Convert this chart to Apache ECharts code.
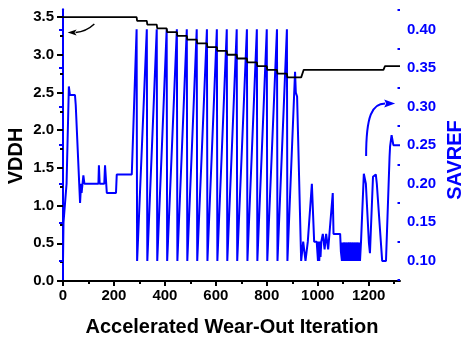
<!DOCTYPE html>
<html><head><meta charset="utf-8">
<script src="https://cdn.jsdelivr.net/npm/echarts@6/dist/echarts.min.js"></script>
<style>html,body{margin:0;padding:0;background:#fff}#c{width:463px;height:339px}</style>
</head><body><div id="c"></div>
<script>
// ---- data ----
const blackIter = [0,289,291,329,331,368,370,407,409,447,449,486,488,525,527,565,567,604,606,643,645,682,684,722,724,761,763,800,802,840,842,879,881,935,945,1258,1264,1323];
const blackVddh = [3.50,3.50,3.45,3.45,3.40,3.40,3.35,3.35,3.30,3.30,3.25,3.25,3.20,3.20,3.15,3.15,3.10,3.10,3.05,3.05,3.00,3.00,2.95,2.95,2.90,2.90,2.85,2.85,2.80,2.80,2.75,2.75,2.70,2.70,2.80,2.80,2.85,2.85];

const blueIter = [0,2,14,23,27,47,50,55,67,71,73,80,84,139,141,144,162,165,172,208,211,270,
  289,291,329,331,368,370,407,409,447,449,486,488,525,527,565,567,604,606,643,645,682,684,722,724,761,763,800,802,840,842,879,881,
  911,914,919,935,941,943,950,952,958,961,977,986,996,999,1001,1004,1006,1009,1011,1014,1018,1020,1025,1027,1031,1033,1039,1041,1044,1046,1059,1062,1088,1091,
  1095,1097,1099,1101,1103,1105,1108,1110,1112,1115,1117,1119,1122,1124,1126,1128,1131,1133,1135,1138,1140,1142,1145,1147,1149,1152,1154,1156,1159,1161,1163,1166,
  1170,1181,1185,1189,1201,1205,1217,1228,1232,1253,1268,1282,1284,1290,1294,1297,1323];
const blueSavref = [0.10,0.15,0.20,0.326,0.315,0.315,0.302,0.302,0.175,0.200,0.188,0.211,0.200,0.200,0.224,0.200,0.200,0.224,0.188,0.188,0.212,0.212,
  0.40,0.10,0.40,0.10,0.40,0.10,0.40,0.10,0.40,0.10,0.40,0.10,0.40,0.10,0.40,0.10,0.40,0.10,0.40,0.10,0.40,0.10,0.40,0.10,0.40,0.10,0.40,0.10,0.40,0.10,0.40,0.10,
  0.345,0.318,0.313,0.10,0.10,0.125,0.125,0.10,0.10,0.125,0.20,0.125,0.125,0.11,0.10,0.125,0.10,0.125,0.105,0.125,0.125,0.135,0.135,0.115,0.115,0.135,0.135,0.115,0.115,0.135,0.188,0.135,0.135,0.112,
  0.10,0.124,0.10,0.10,0.124,0.10,0.124,0.10,0.124,0.124,0.10,0.124,0.10,0.10,0.124,0.10,0.124,0.10,0.124,0.10,0.124,0.10,0.124,0.10,0.124,0.10,0.124,0.10,0.124,0.10,0.124,0.10,
  0.125,0.213,0.213,0.20,0.123,0.11,0.209,0.212,0.20,0.10,0.10,0.235,0.248,0.263,0.263,0.25,0.25];

const xTicks = [0,200,400,600,800,1000,1200];
const xMinorTicks = [100,300,500,700,900,1100,1300];
const leftTicks = [0,0.5,1.0,1.5,2.0,2.5,3.0,3.5];
const leftMinorTicks = [0.25,0.75,1.25,1.75,2.25,2.75,3.25];
const rightTicks = [0.10,0.15,0.20,0.25,0.30,0.35,0.40];
const rightMinorTicks = [0.075,0.125,0.175,0.225,0.275,0.325,0.375,0.425];

const xTitle = 'Accelerated Wear-Out Iteration';
const leftTitle = 'VDDH';
const rightTitle = 'SAVREF';

// ---- chart ----
const FONT = "'Liberation Sans', Arial, sans-serif";
const BLUE = '#0000ff';
const X_MIN = 0, X_MAX = 1323;
const chart = echarts.init(document.getElementById('c'), null, {renderer: 'canvas'});

function zip(a, b) { return a.map((v, i) => [v, b[i]]); }
const lbl = (color) => ({color: color, fontFamily: FONT, fontWeight: 'bold', fontSize: 15});

chart.setOption({
  animation: false,
  backgroundColor: '#fff',
  grid: [
    {left: 63, right: 63, top: 15, bottom: 58},
    {left: 63, right: 63, top: 9.3, bottom: 58}
  ],
  xAxis: [
    {gridIndex: 0, type: 'value', min: X_MIN, max: X_MAX, position: 'bottom',
     axisLine: {show: true, lineStyle: {color: '#000', width: 2}},
     axisTick: {show: true, customValues: xTicks, length: 5, lineStyle: {color: '#000', width: 2}},
     axisLabel: Object.assign({customValues: xTicks, margin: 7, formatter: v => String(Math.round(v))}, lbl('#000')),
     splitLine: {show: false}},
    {gridIndex: 0, type: 'value', min: X_MIN, max: X_MAX, position: 'bottom',
     axisLine: {show: false},
     axisTick: {show: true, customValues: xMinorTicks, length: 3, lineStyle: {color: '#000', width: 2}},
     axisLabel: {show: false}, splitLine: {show: false}},
    {gridIndex: 1, type: 'value', min: X_MIN, max: X_MAX, show: false}
  ],
  yAxis: [
    {gridIndex: 0, type: 'value', min: 0, max: 3.527, position: 'left',
     axisLine: {show: true, lineStyle: {color: '#000', width: 2}},
     axisTick: {show: true, customValues: leftTicks, length: 6, lineStyle: {color: '#000', width: 2}},
     axisLabel: Object.assign({customValues: leftTicks, margin: 9, formatter: v => v.toFixed(1)}, lbl('#000')),
     splitLine: {show: false}},
    {gridIndex: 0, type: 'value', min: 0, max: 3.527, position: 'left',
     axisLine: {show: false},
     axisTick: {show: true, customValues: leftMinorTicks, length: 3, lineStyle: {color: '#000', width: 2}},
     axisLabel: {show: false}, splitLine: {show: false}},
    {gridIndex: 1, type: 'value', min: 0.074, max: 0.426, position: 'right',
     axisLine: {show: true, lineStyle: {color: BLUE, width: 2}},
     axisTick: {show: true, inside: true, customValues: rightTicks, length: 4, lineStyle: {color: BLUE, width: 2}},
     axisLabel: Object.assign({customValues: rightTicks, margin: 7, formatter: v => v.toFixed(2)}, lbl(BLUE)),
     splitLine: {show: false}},
    {gridIndex: 1, type: 'value', min: 0.074, max: 0.426, position: 'right',
     axisLine: {show: false},
     axisTick: {show: true, inside: true, customValues: rightMinorTicks, length: 2.5, lineStyle: {color: BLUE, width: 2}},
     axisLabel: {show: false}, splitLine: {show: false}}
  ],
  series: [
    {name: 'VDDH', type: 'line', xAxisIndex: 0, yAxisIndex: 0, data: zip(blackIter, blackVddh),
     showSymbol: false, symbol: 'none', z: 4, lineStyle: {color: '#000', width: 1.8}},
    {name: 'SAVREF', type: 'line', xAxisIndex: 2, yAxisIndex: 2, data: zip(blueIter, blueSavref),
     showSymbol: false, symbol: 'none', z: 3, lineStyle: {color: BLUE, width: 2}}
  ]
});

// ---- titles and arrows ----
const bArrowStart = chart.convertToPixel({seriesIndex: 0}, [123, 3.407]);
const bArrowTip = chart.convertToPixel({seriesIndex: 0}, [18, 3.294]);
const uArrowStart = chart.convertToPixel({seriesIndex: 1}, [1190, 0.236]);
const uArrowTip = chart.convertToPixel({seriesIndex: 1}, [1304, 0.304]);

const bBase = [bArrowTip[0] + 8, bArrowTip[1]];
const uBase = [uArrowTip[0] - 10, uArrowTip[1]];

chart.setOption({
  graphic: [
    {type: 'text', x: 16, y: 156, rotation: Math.PI / 2,
     style: {text: leftTitle, font: 'bold 20px ' + FONT, fill: '#000', align: 'center', verticalAlign: 'middle'}},
    {type: 'text', x: 455, y: 160, rotation: Math.PI / 2,
     style: {text: rightTitle, font: 'bold 20px ' + FONT, fill: BLUE, align: 'center', verticalAlign: 'middle'}},
    {type: 'text', x: 232, y: 327.5,
     style: {text: xTitle, font: 'bold 20px ' + FONT, fill: '#000', align: 'center', verticalAlign: 'middle'}},
    {type: 'bezierCurve', shape: {x1: bArrowStart[0], y1: bArrowStart[1], x2: bBase[0], y2: bBase[1],
      cpx1: bArrowStart[0] - 8, cpy1: bBase[1] - 1},
     style: {stroke: '#000', lineWidth: 1.5, fill: null}},
    {type: 'polygon', shape: {points: [[bArrowTip[0], bArrowTip[1]], [bBase[0] + 1, bBase[1] - 3], [bBase[0] - 1, bBase[1]], [bBase[0] + 1, bBase[1] + 3]]},
     style: {fill: '#000'}},
    {type: 'bezierCurve', shape: {x1: uArrowStart[0], y1: uArrowStart[1], x2: uBase[0], y2: uBase[1],
      cpx1: uArrowStart[0], cpy1: uBase[1] + 12, cpx2: uArrowStart[0] + 6, cpy2: uBase[1]},
     style: {stroke: BLUE, lineWidth: 2, fill: null}},
    {type: 'polygon', shape: {points: [[uArrowTip[0], uArrowTip[1]], [uBase[0] - 1, uBase[1] - 4], [uBase[0] + 1, uBase[1]], [uBase[0] - 1, uBase[1] + 4]]},
     style: {fill: BLUE}}
  ]
});
</script>
</body></html>
